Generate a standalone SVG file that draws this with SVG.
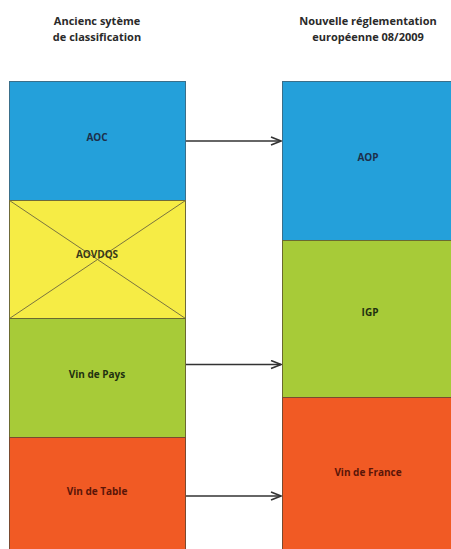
<svg xmlns="http://www.w3.org/2000/svg" width="451" height="549" viewBox="0 0 451 549">
<defs>
<style>
.h{font-family:"Open Sans","Liberation Sans",sans-serif;font-weight:bold;font-size:11px;fill:#2a2a2a;text-anchor:middle}
.t{font-family:"Open Sans","Liberation Sans",sans-serif;font-weight:bold;font-size:10px;text-anchor:middle}
.blue{fill:#24a0da;stroke:#3a6f8a;stroke-width:1}
.yel{fill:#f6ec45;stroke:#6f6a3a;stroke-width:1}
.grn{fill:#a7cb38;stroke:#6a6a30;stroke-width:1}
.org{fill:#f15a24;stroke:#7a4a30;stroke-width:1}
.c{stroke:#333;stroke-width:1.6;fill:none}
</style>
<marker id="ah" viewBox="0 0 12 10" refX="11" refY="5" markerWidth="12" markerHeight="10" markerUnits="userSpaceOnUse" orient="auto">
<path d="M1,1 L11,5 L1,9" fill="none" stroke="#333" stroke-width="1.6"/>
</marker>
</defs>
<rect width="451" height="549" fill="#fff"/>
<g id="heading-left">
<text class="h" x="97" y="25">Ancienc sytème</text>
<text class="h" x="97" y="41">de classification</text>
</g>
<g id="heading-right">
<text class="h" x="368" y="25">Nouvelle réglementation</text>
<text class="h" x="368" y="41">européenne 08/2009</text>
</g>
<g id="aoc">
<rect class="blue" x="9.5" y="81.5" width="176" height="119"/>
<text class="t" x="97" y="141" fill="#1d2f4a">AOC</text>
</g>
<g id="aovdqs">
<rect class="yel" x="9.5" y="200.5" width="176" height="118"/>
<path d="M9.5,200.5 L185.5,318.5 M185.5,200.5 L9.5,318.5" stroke="#7a7440" stroke-width="1" fill="none"/>
<text class="t" x="97" y="258" fill="#3a3a1a">AOVDQS</text>
</g>
<g id="vin-de-pays">
<rect class="grn" x="9.5" y="318.5" width="176" height="119"/>
<text class="t" x="97" y="378" fill="#1f3010">Vin de Pays</text>
</g>
<g id="vin-de-table">
<rect class="org" x="9.5" y="437.5" width="176" height="115"/>
<text class="t" x="97" y="495" fill="#5a1508">Vin de Table</text>
</g>
<g id="aop">
<rect class="blue" x="282.5" y="81.5" width="172" height="159"/>
<text class="t" x="368" y="161" fill="#1d2f4a">AOP</text>
</g>
<g id="igp">
<rect class="grn" x="282.5" y="240.5" width="172" height="157"/>
<text class="t" x="370" y="316" fill="#1f3010">IGP</text>
</g>
<g id="vin-de-france">
<rect class="org" x="282.5" y="397.5" width="172" height="155"/>
<text class="t" x="368" y="476" fill="#5a1508">Vin de France</text>
</g>
<g id="connectors">
<line class="c" x1="186" y1="141" x2="281" y2="141" marker-end="url(#ah)"/>
<line class="c" x1="186" y1="364.5" x2="281" y2="364.5" marker-end="url(#ah)"/>
<line class="c" x1="186" y1="496" x2="281" y2="496" marker-end="url(#ah)"/>
</g>
</svg>
